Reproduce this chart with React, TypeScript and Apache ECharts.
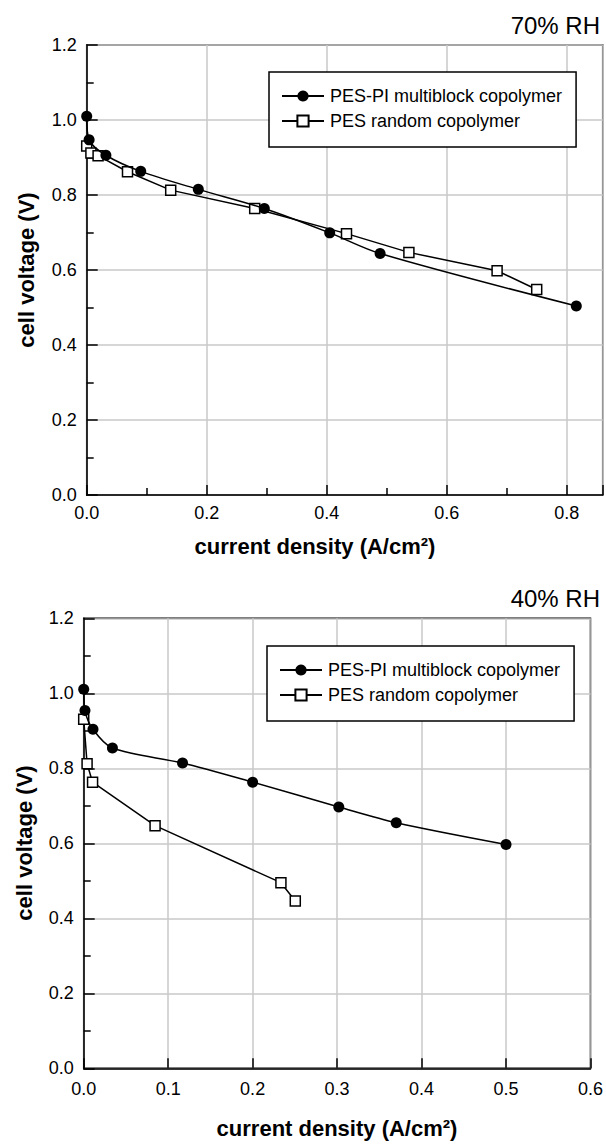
import { useEffect, useRef } from "react";
import * as echarts from "echarts";

const seriesNames = ["PES-PI multiblock copolymer", "PES random copolymer"];

// 70% RH
const topCircleX = [0, 0.004, 0.032, 0.09, 0.186, 0.296, 0.405, 0.489, 0.816];
const topCircleY = [1.01, 0.947, 0.906, 0.863, 0.815, 0.764, 0.699, 0.644, 0.504];
const topSquareX = [0, 0.007, 0.019, 0.068, 0.14, 0.28, 0.433, 0.537, 0.684, 0.75];
const topSquareY = [0.931, 0.912, 0.905, 0.862, 0.813, 0.764, 0.697, 0.647, 0.598, 0.548];

// 40% RH
const botCircleX = [0, 0.0015, 0.011, 0.034, 0.117, 0.2, 0.302, 0.37, 0.5];
const botCircleY = [1.011, 0.954, 0.904, 0.854, 0.814, 0.763, 0.697, 0.655, 0.597];
const botSquareX = [0, 0.004, 0.0105, 0.0845, 0.2335, 0.2505];
const botSquareY = [0.931, 0.812, 0.763, 0.647, 0.495, 0.446];

const panelTitles = ["70% RH", "40% RH"];
const xTitle = "current density (A/cm²)";
const yTitle = "cell voltage (V)";

const FONT = "'Liberation Sans', Arial, Helvetica, sans-serif";

const pairs = (xs: number[], ys: number[]) => xs.map((x, i) => [x, ys[i]]);

function makeXAxis(gridIndex: number, max: number, interval: number, minor: boolean, showMax: boolean, margin: number) {
  return {
    type: "value",
    gridIndex,
    min: 0,
    max,
    interval,
    axisLine: { show: true, onZero: false, lineStyle: { color: "#000", width: 1.5 } },
    axisTick: { show: true, inside: true, length: 10, lineStyle: { color: "#000", width: 1.5 } },
    minorTick: { show: minor, splitNumber: 2, length: 7, lineStyle: { color: "#000", width: 1.5 } },
    splitLine: { show: true, lineStyle: { color: "#c8c8c8", width: 1.5 } },
    minorSplitLine: { show: false },
    axisLabel: {
      color: "#000",
      fontFamily: FONT,
      fontSize: 18,
      margin,
      showMaxLabel: showMax,
      formatter: (v: number) => v.toFixed(1),
    },
  };
}

function makeYAxis(gridIndex: number) {
  return {
    type: "value",
    gridIndex,
    min: 0,
    max: 1.2,
    interval: 0.2,
    axisLine: { show: true, onZero: false, lineStyle: { color: "#000", width: 1.5 } },
    axisTick: { show: true, inside: true, length: 11, lineStyle: { color: "#000", width: 1.5 } },
    minorTick: { show: true, splitNumber: 2, length: 7, lineStyle: { color: "#000", width: 1.5 } },
    splitLine: { show: true, lineStyle: { color: "#c8c8c8", width: 1.5 } },
    minorSplitLine: { show: false },
    axisLabel: {
      color: "#000",
      fontFamily: FONT,
      fontSize: 18,
      margin: 10,
      formatter: (v: number) => v.toFixed(1),
    },
  };
}

function circleSeries(idx: number, xs: number[], ys: number[]) {
  return {
    type: "line",
    name: seriesNames[0],
    xAxisIndex: idx,
    yAxisIndex: idx,
    data: pairs(xs, ys),
    symbol: "circle",
    symbolSize: 11,
    smooth: 0.3,
    clip: false,
    z: 4,
    lineStyle: { color: "#000", width: 1.5 },
    itemStyle: { color: "#000", borderColor: "#000", borderWidth: 0 },
  };
}

function squareSeries(idx: number, xs: number[], ys: number[]) {
  return {
    type: "line",
    name: seriesNames[1],
    xAxisIndex: idx,
    yAxisIndex: idx,
    data: pairs(xs, ys),
    symbol: "rect",
    symbolSize: 10,
    smooth: false,
    clip: false,
    z: 3,
    lineStyle: { color: "#000", width: 1.5 },
    itemStyle: { color: "#fff", borderColor: "#000", borderWidth: 1.5 },
  };
}

function makeLegend(left: number, top: number) {
  return {
    orient: "vertical",
    left,
    top,
    padding: [15, 14, 17, 12],
    itemGap: 7,
    itemWidth: 42,
    itemHeight: 14,
    borderColor: "#000",
    borderWidth: 1.5,
    backgroundColor: "#fff",
    selectedMode: false,
    textStyle: { fontFamily: FONT, fontSize: 18, color: "#000", padding: [0, 0, 0, 1] },
    data: seriesNames,
    z: 10,
  };
}

function txt(text: string, x: number, y: number, size: number, bold: boolean, align: string, rotation = 0) {
  return {
    type: "text",
    x,
    y,
    rotation,
    z: 20,
    style: {
      text,
      fill: "#000",
      fontFamily: FONT,
      fontSize: size,
      fontWeight: bold ? "bold" : "normal",
      font: `${bold ? "bold " : ""}${size}px ${FONT}`,
      align,
      textAlign: align,
      verticalAlign: "middle",
      textVerticalAlign: "middle",
    },
  };
}

export default function App() {
  const ref = useRef<HTMLDivElement>(null);
  useEffect(() => {
    document.body.style.margin = "0";
    if (!ref.current) return;
    const chart = echarts.init(ref.current, undefined, { renderer: "svg" });
    chart.setOption({
      animation: false,
      backgroundColor: "#fff",
      grid: [
        { left: 86.7, top: 45, width: 516, height: 450, show: true, borderColor: "#000", borderWidth: 1.5, backgroundColor: "transparent" },
        { left: 83.7, top: 618.3, width: 517.8, height: 450, show: true, borderColor: "#000", borderWidth: 1.5, backgroundColor: "transparent" },
      ],
      xAxis: [makeXAxis(0, 0.86, 0.2, true, false, 9), makeXAxis(1, 0.6, 0.1, false, true, 12)],
      yAxis: [makeYAxis(0), makeYAxis(1)],
      legend: [makeLegend(269, 72), makeLegend(267, 646)],
      series: [
        squareSeries(0, topSquareX, topSquareY),
        circleSeries(0, topCircleX, topCircleY),
        squareSeries(1, botSquareX, botSquareY),
        circleSeries(1, botCircleX, botCircleY),
      ],
      graphic: [
        txt(panelTitles[0], 600, 25, 24, false, "right"),
        txt(panelTitles[1], 600, 598, 24, false, "right"),
        txt(xTitle, 315, 546, 22, true, "center"),
        txt(xTitle, 337, 1128, 22, true, "center"),
        txt(yTitle, 26, 270, 22, true, "center", Math.PI / 2),
        txt(yTitle, 24, 843, 22, true, "center", Math.PI / 2),
      ],
    });
    return () => chart.dispose();
  }, []);
  return <div ref={ref} style={{ width: 606, height: 1144 }} />;
}
